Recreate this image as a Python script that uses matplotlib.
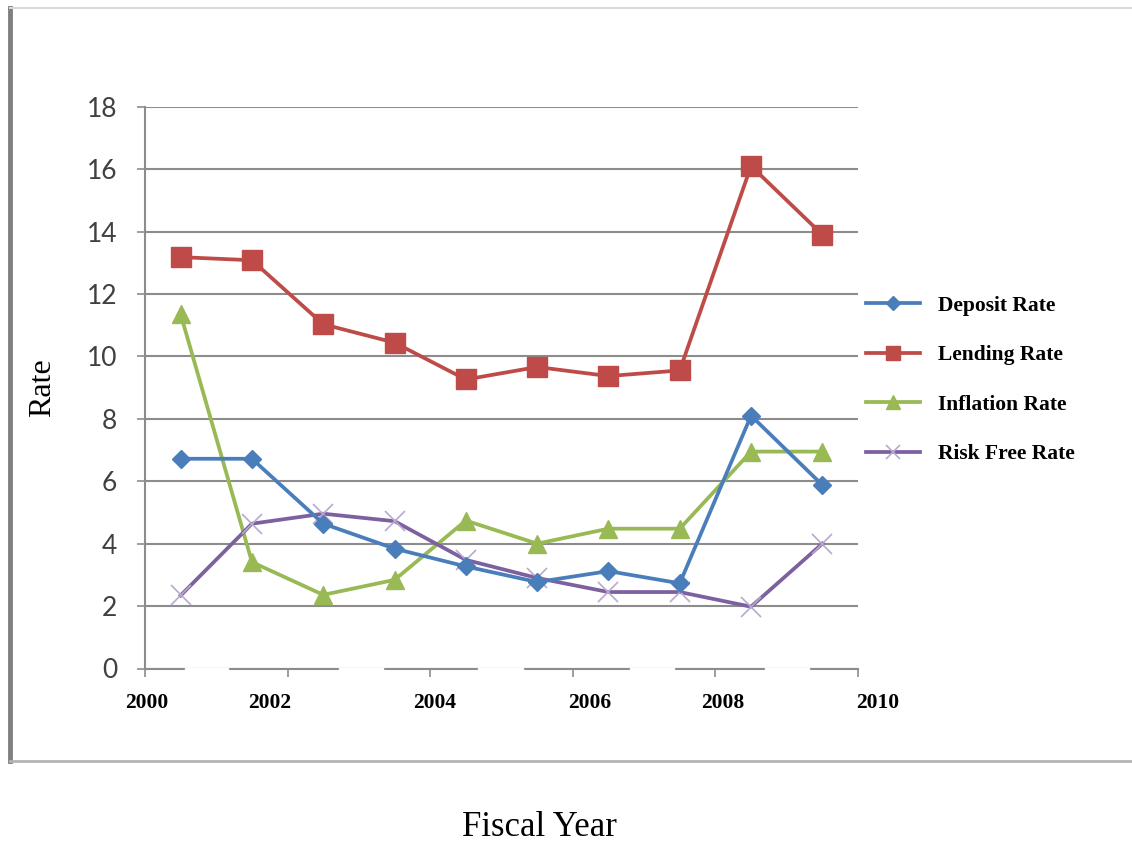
import numpy as np
import matplotlib.pyplot as plt
from matplotlib.lines import Line2D
from matplotlib.patches import Rectangle

W, H = 1132, 842
plt.rcParams['font.family'] = ['Liberation Serif', 'DejaVu Serif']

# fiscal year data
years = ['2000', '2002', '2004', '2006', '2008', '2010']
deposit = [6.72, 6.72, 4.64, 3.84, 3.27, 2.77, 3.12, 2.73, 8.1, 5.88]
lending = [13.18, 13.08, 11.03, 10.44, 9.26, 9.66, 9.37, 9.55, 16.1, 13.9]
inflation = [11.35, 3.41, 2.36, 2.84, 4.74, 4.0, 4.48, 4.48, 6.95, 6.95]
risk_free = [2.34, 4.64, 4.96, 4.72, 3.48, 2.9, 2.45, 2.45, 1.98, 4.0]

def px(x, y):
    return x / W, 1 - y / H

fig = plt.figure(figsize=(W / 100, H / 100), dpi=100)
fig.patch.set_facecolor('white')

left, top = px(145, 106.7)
right, bottom = px(858, 668.5)
ax = fig.add_axes([left, bottom, right - left, top - bottom])

grey = '#8c8c8c'
x = np.arange(len(deposit)) + 0.5
ax.plot(x, deposit, color='#4a7ebb', lw=2.7, marker='D', ms=9.5,
        label='Deposit Rate', zorder=4)
ax.plot(x, lending, color='#be4b48', lw=2.7, marker='s', ms=14,
        label='Lending Rate', zorder=3)
ax.plot(x, inflation, color='#98b954', lw=2.7, marker='^', ms=13,
        label='Inflation Rate', zorder=3)
ax.plot(x, risk_free, color='#7d60a0', lw=2.7, marker='x', ms=14,
        mec='#b9a9d0', mew=1.2, label='Risk Free Rate', zorder=3)

ax.set_xlim(0, 10)
ax.set_ylim(0, 18)
ax.set_yticks(range(0, 19, 2))
ax.set_xticks(range(0, 11, 2))
ax.set_xticklabels([])
ax.grid(axis='y', color=grey, lw=1.5)
ax.set_axisbelow(True)
for s in ['top', 'right']:
    ax.spines[s].set_visible(False)
for s in ['left', 'bottom']:
    ax.spines[s].set_color(grey)
    ax.spines[s].set_linewidth(1.5)
ax.tick_params(axis='both', direction='out', length=6, width=1.2, color=grey)
ax.tick_params(axis='y', pad=14, labelsize=19, labelcolor='#404040')
for t in ax.get_yticklabels():
    t.set_fontfamily(['Lato', 'DejaVu Sans'])

# year labels sit in their own boxes under the axis
label_x = [147, 270, 435, 590, 723, 878]
for xp, yr in zip(label_x, years):
    fig.text(*px(xp, 703), yr, ha='center', va='center', fontsize=15.5,
             fontweight='bold')
for x0, x1 in [(185, 228), (339, 383), (478, 523), (630, 674), (765, 809)]:
    fig.patches.append(Rectangle(px(x0, 680), (x1 - x0) / W, 12 / H,
                                 transform=fig.transFigure, color='white',
                                 zorder=5))

fig.text(*px(43, 388), 'Rate', rotation=90, ha='center', va='center',
         fontsize=23)
fig.text(*px(539, 827), 'Fiscal Year', ha='center', va='center', fontsize=25)

leg = fig.legend(loc='center left', bbox_to_anchor=px(847, 380),
                 frameon=False, prop={'weight': 'bold', 'size': 15.5},
                 handlelength=2.5, handletextpad=0.85, labelspacing=1.36,
                 markerscale=0.75)

# chart frame
fig.add_artist(Line2D([10 / W, 10 / W], [1 - 8 / H, 1 - 761 / H],
                      color='#808080', lw=3.5))
fig.add_artist(Line2D([10 / W, 1], [1 - 8 / H, 1 - 8 / H],
                      color='#d8d8d8', lw=1.5))
fig.add_artist(Line2D([10 / W, 1], [1 - 761 / H, 1 - 761 / H],
                      color='#b4b4b4', lw=2))

fig.savefig('out.png', dpi=100)
